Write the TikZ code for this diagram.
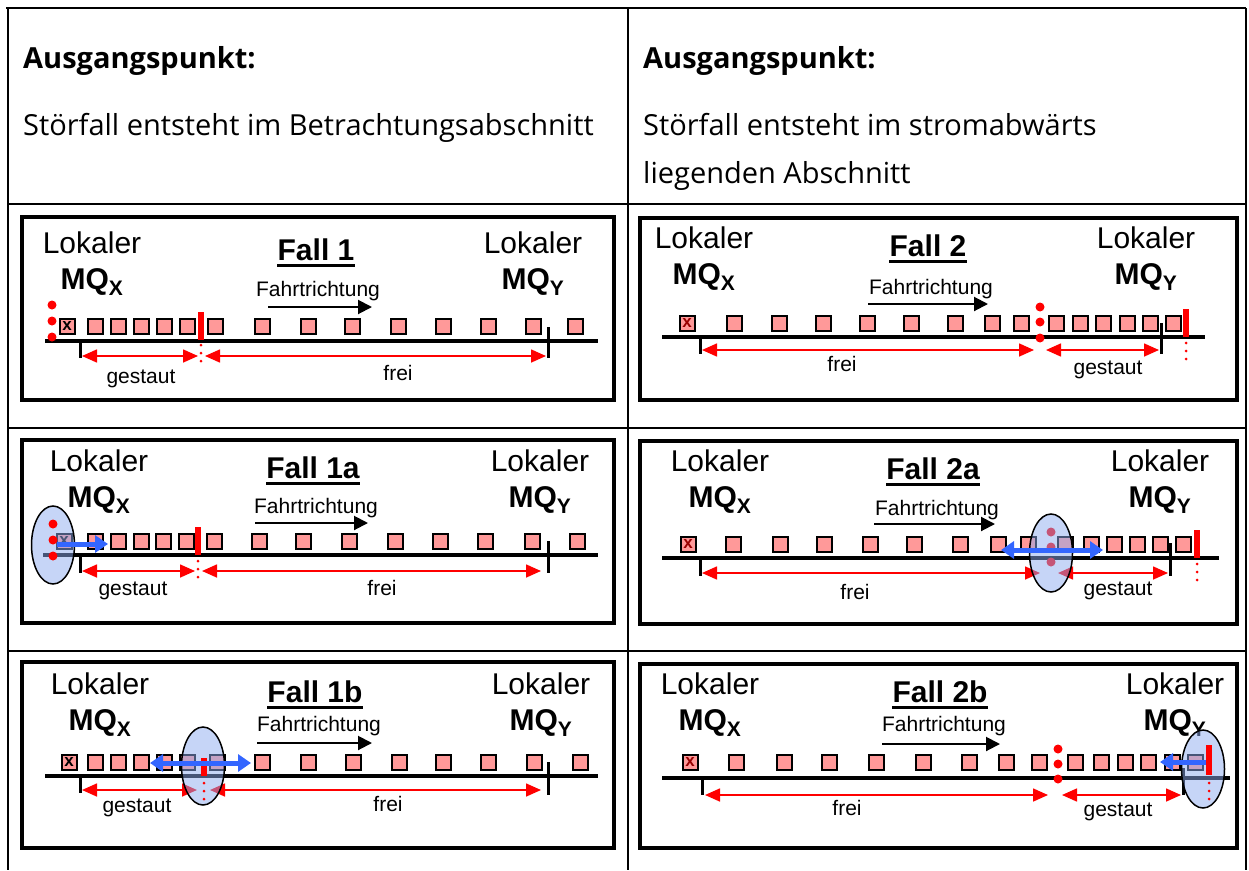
\documentclass[tikz,border=0pt]{standalone}
\usepackage{fontspec}
\setmainfont{Liberation Sans}
\newfontfamily\kopffont{Open Sans}
\usetikzlibrary{arrows.meta, shapes.geometric, positioning}

\definecolor{autorot}{RGB}{255,153,153}
\definecolor{pfeilblau}{RGB}{51,102,255}
\definecolor{zonenblau}{RGB}{141,171,239}

\tikzset{
    car/.style={draw, line width=2pt, fill=autorot, minimum size=15pt, inner sep=0pt,
        font=\bfseries\fontsize{17}{17}\selectfont},
    strasse/.style={line width=4pt},
    marke/.style={line width=3pt},
    rahmen/.style={line width=4pt},
    tabelle/.style={line width=2pt},
    stau/.style={red, line width=1.6pt,
        {Triangle[length=15pt,width=13pt]}-{Triangle[length=15pt,width=13pt]}},
    richtung/.style={line width=2pt, -{Triangle[length=14pt,width=14pt]}},
    stoer/.style={red, line width=6pt},
    stoerspur/.style={red, line width=3pt, line cap=round, dash pattern=on 0pt off 8pt},
    punkt/.style={circle, fill=red, inner sep=0pt, minimum size=9pt},
    blaupfeil/.style={pfeilblau, line width=5pt, -{Triangle[length=13pt,width=17pt]}},
    zone/.style={ellipse, draw, line width=1.5pt, fill=zonenblau, fill opacity=0.5,
        draw opacity=1, minimum width=43pt, minimum height=78pt, inner sep=0pt},
    lokal/.style={font=\fontsize{30}{36}\selectfont, align=center, inner sep=0pt},
    titel/.style={font=\fontsize{30}{36}\selectfont\bfseries, inner sep=0pt},
    fahrt/.style={font=\fontsize{21}{24}\selectfont, inner sep=0pt},
    klein/.style={font=\fontsize{21}{24}\selectfont, inner sep=0pt},
    kopf/.style={font=\kopffont\fontsize{29}{34}\selectfont, anchor=base west, inner sep=0pt},
}

\begin{document}
\begin{tikzpicture}[x=1pt, y=-1pt]
    \useasboundingbox (0,0) rectangle (1249,870);

    % Tabelle
    \draw[line width=2.5pt] (6,8) -- (1246,8);
    \draw[line width=2.5pt] (7,204) -- (1246,204);
    \draw[tabelle] (7,428) -- (1246,428);
    \draw[tabelle] (7,651) -- (1246,651);
    \foreach \x in {8,628,1246} {
        \draw[tabelle] (\x,8) -- (\x,870);
    }

    % Kopfzeile
    \node[kopf, font=\kopffont\fontsize{29}{34}\selectfont\bfseries] (ak1) at (23,68) {Ausgangspunkt:};
    \node[kopf] (st1) at (23,135) {Störfall entsteht im Betrachtungsabschnitt};
    \node[kopf, font=\kopffont\fontsize{29}{34}\selectfont\bfseries] (ak2) at (643,68) {Ausgangspunkt:};
    \node[kopf] (st2) at (643,135) {Störfall entsteht im stromabwärts};
    \node[kopf] (st3) at (643,183) {liegenden Abschnitt};

    % ---------------- Fall 1 ----------------
    \draw[rahmen] (22,217) rectangle (614,400);
    \node[lokal] (lx1) at (92,264) {Lokaler\\\textbf{MQ\textsubscript{X}}};
    \node[lokal] (ly1) at (533,264) {Lokaler\\\textbf{MQ\textsubscript{Y}}};
    \node[titel] (t1) at (316,250) {Fall 1};
    \draw[line width=3pt] ([yshift=-5pt]t1.base west) -- ([yshift=-5pt]t1.base east);
    \node[fahrt] (r1) at (318,291) {Fahrtrichtung};
    \coordinate (r1a) at (268,307);
    \coordinate (r1b) at (372,307);
    \draw[richtung] (r1a) -- (r1b);
    \draw[strasse] (45,341) -- (598,341);
    \node[car] (c1x) at (67,326) {x};
    \foreach \x in {95,118,141,164,187,215,262,308,352,398,443,488,533,575} {
        \node[car] (c1-\x) at (\x,326) {};
    }
    \draw[marke] (80,341) -- (80,358);
    \draw[marke] (548,327) -- (548,358);
    \coordinate (g1a) at (82,356);
    \coordinate (g1b) at (198,356);
    \coordinate (e1a) at (205,356);
    \coordinate (e1b) at (546,356);
    \draw[stau] (g1a) -- (g1b);
    \draw[stau] (e1a) -- (e1b);
    \node[klein] (gl1) at (141,379) {gestaut};
    \node[klein] (fl1) at (398,373) {frei};
    \draw[stoer] (201,312) -- (201,340);
    \draw[stoerspur] (201,345) -- (201,362);
    \foreach \y in {305,321,337} {
        \node[punkt] (p1-\y) at (52,\y) {};
    }

    % ---------------- Fall 2 ----------------
    \draw[rahmen] (640,218) rectangle (1237,400);
    \node[lokal] (lx2) at (704,259) {Lokaler\\\textbf{MQ\textsubscript{X}}};
    \node[lokal] (ly2) at (1146,259) {Lokaler\\\textbf{MQ\textsubscript{Y}}};
    \node[titel] (t2) at (928,246) {Fall 2};
    \draw[line width=3pt] ([yshift=-5pt]t2.base west) -- ([yshift=-5pt]t2.base east);
    \node[fahrt] (r2) at (931,289) {Fahrtrichtung};
    \coordinate (r2a) at (868,304);
    \coordinate (r2b) at (988,304);
    \draw[richtung] (r2a) -- (r2b);
    \draw[strasse] (662,337) -- (1205,337);
    \node[car, text=red!60!black] (c2x) at (687,323) {x};
    \foreach \x in {734,779,823,867,911,955,992,1021,1056,1080,1103,1127,1150,1173} {
        \node[car] (c2-\x) at (\x,323) {};
    }
    \draw[marke] (700,337) -- (700,354);
    \draw[marke] (1161,323) -- (1161,354);
    \coordinate (e2a) at (702,350);
    \coordinate (e2b) at (1034,350);
    \coordinate (g2a) at (1046,350);
    \coordinate (g2b) at (1159,350);
    \draw[stau] (e2a) -- (e2b);
    \draw[stau] (g2a) -- (g2b);
    \node[klein] (fl2) at (842,364) {frei};
    \node[klein] (gl2) at (1108,370) {gestaut};
    \draw[stoer] (1186,309) -- (1186,337);
    \draw[stoerspur] (1186,343) -- (1186,362);
    \foreach \y in {307,322,338} {
        \node[punkt] (p2-\y) at (1040,\y) {};
    }

    % ---------------- Fall 1a ----------------
    \draw[rahmen] (22,440) rectangle (614,623);
    \node[lokal] (lx3) at (99,482) {Lokaler\\\textbf{MQ\textsubscript{X}}};
    \node[lokal] (ly3) at (540,482) {Lokaler\\\textbf{MQ\textsubscript{Y}}};
    \node[titel] (t3) at (313,468) {Fall 1a};
    \draw[line width=3pt] ([yshift=-5pt]t3.base west) -- ([yshift=-5pt]t3.base east);
    \node[fahrt] (r3) at (316,508) {Fahrtrichtung};
    \coordinate (r3a) at (255,523);
    \coordinate (r3b) at (368,523);
    \draw[richtung] (r3a) -- (r3b);
    \draw[strasse] (43,555) -- (598,555);
    \node[car] (c3x) at (64,541) {x};
    \foreach \x in {95,118,141,163,186,214,259,303,349,395,440,485,532,577} {
        \node[car] (c3-\x) at (\x,541) {};
    }
    \draw[marke] (80,555) -- (80,573);
    \draw[marke] (548,541) -- (548,573);
    \coordinate (g3a) at (82,571);
    \coordinate (g3b) at (195,571);
    \coordinate (e3a) at (202,571);
    \coordinate (e3b) at (541,571);
    \draw[stau] (g3a) -- (g3b);
    \draw[stau] (e3a) -- (e3b);
    \node[klein] (gl3) at (133,591) {gestaut};
    \node[klein] (fl3) at (382,588) {frei};
    \node[zone] (z3) at (53,545) {};
    \draw[stoer] (198,527) -- (198,555);
    \draw[stoerspur] (198,561) -- (198,578);
    \foreach \y in {524,540,556} {
        \node[punkt] (p3-\y) at (53,\y) {};
    }
    \coordinate (b3a) at (57,544);
    \coordinate (b3b) at (108,544);
    \draw[blaupfeil] (b3a) -- (b3b);

    % ---------------- Fall 2a ----------------
    \draw[rahmen] (640,441) rectangle (1237,624);
    \node[lokal] (lx4) at (720,482) {Lokaler\\\textbf{MQ\textsubscript{X}}};
    \node[lokal] (ly4) at (1160,482) {Lokaler\\\textbf{MQ\textsubscript{Y}}};
    \node[titel] (t4) at (933,469) {Fall 2a};
    \draw[line width=3pt] ([yshift=-5pt]t4.base west) -- ([yshift=-5pt]t4.base east);
    \node[fahrt] (r4) at (937,510) {Fahrtrichtung};
    \coordinate (r4a) at (874,524);
    \coordinate (r4b) at (995,524);
    \draw[richtung] (r4a) -- (r4b);
    \draw[strasse] (662,558) -- (1219,558);
    \node[car, text=red!60!black] (c4x) at (688,544) {x};
    \foreach \x in {733,780,824,870,914,960,998,1028,1065,1091,1114,1137,1160,1183} {
        \node[car] (c4-\x) at (\x,544) {};
    }
    \draw[marke] (700,558) -- (700,576);
    \draw[marke] (1170,543) -- (1170,576);
    \coordinate (e4a) at (702,573);
    \coordinate (e4b) at (1040,573);
    \coordinate (g4a) at (1058,573);
    \coordinate (g4b) at (1168,573);
    \draw[stau] (e4a) -- (e4b);
    \draw[stau] (g4a) -- (g4b);
    \node[klein] (fl4) at (855,592) {frei};
    \node[klein] (gl4) at (1118,591) {gestaut};
    \foreach \y in {532,547,562} {
        \node[punkt] (p4-\y) at (1051,\y) {};
    }
    \node[zone] (z4) at (1051,553) {};
    \draw[stoer] (1197,530) -- (1197,558);
    \draw[stoerspur] (1197,564) -- (1197,582);
    \coordinate (b4a) at (1001,550);
    \coordinate (b4b) at (1103,550);
    \draw[blaupfeil, {Triangle[length=13pt,width=17pt]}-{Triangle[length=13pt,width=17pt]}] (b4a) -- (b4b);

    % ---------------- Fall 1b ----------------
    \draw[rahmen] (22,662) rectangle (614,848);
    \node[lokal] (lx5) at (100,705) {Lokaler\\\textbf{MQ\textsubscript{X}}};
    \node[lokal] (ly5) at (541,705) {Lokaler\\\textbf{MQ\textsubscript{Y}}};
    \node[titel] (t5) at (315,692) {Fall 1b};
    \draw[line width=3pt] ([yshift=-5pt]t5.base west) -- ([yshift=-5pt]t5.base east);
    \node[fahrt] (r5) at (319,726) {Fahrtrichtung};
    \coordinate (r5a) at (257,743);
    \coordinate (r5b) at (372,743);
    \draw[richtung] (r5a) -- (r5b);
    \draw[strasse] (45,776) -- (598,776);
    \node[car] (c5x) at (69,762) {x};
    \foreach \x in {95,118,141,164,187,217,262,308,353,399,443,488,534,580} {
        \node[car] (c5-\x) at (\x,762) {};
    }
    \draw[marke] (80,776) -- (80,793);
    \draw[marke] (548,762) -- (548,795);
    \coordinate (g5a) at (82,790);
    \coordinate (g5b) at (197,790);
    \coordinate (e5a) at (210,790);
    \coordinate (e5b) at (541,790);
    \draw[stau] (g5a) -- (g5b);
    \draw[stau] (e5a) -- (e5b);
    \node[klein] (gl5) at (137,808) {gestaut};
    \node[klein] (fl5) at (388,804) {frei};
    \node[zone] (z5) at (203,766) {};
    \draw[stoer] (204,758) -- (204,776);
    \draw[stoerspur] (204,783) -- (204,800);
    \coordinate (b5a) at (150,763);
    \coordinate (b5b) at (251,763);
    \draw[blaupfeil, {Triangle[length=13pt,width=17pt]}-{Triangle[length=13pt,width=17pt]}] (b5a) -- (b5b);

    % ---------------- Fall 2b ----------------
    \draw[rahmen] (640,664) rectangle (1237,848);
    \node[lokal] (lx6) at (710,705) {Lokaler\\\textbf{MQ\textsubscript{X}}};
    \node[lokal] (ly6) at (1175,705) {Lokaler\\\textbf{MQ\textsubscript{Y}}};
    \node[titel] (t6) at (940,692) {Fall 2b};
    \draw[line width=3pt] ([yshift=-5pt]t6.base west) -- ([yshift=-5pt]t6.base east);
    \node[fahrt] (r6) at (944,726) {Fahrtrichtung};
    \coordinate (r6a) at (882,744);
    \coordinate (r6b) at (1000,744);
    \draw[richtung] (r6a) -- (r6b);
    \draw[strasse] (662,778) -- (1230,778);
    \node[car, text=red!60!black] (c6x) at (690,762) {x};
    \foreach \x in {736,784,829,876,923,969,1006,1039,1075,1101,1125,1148,1172,1195} {
        \node[car] (c6-\x) at (\x,762) {};
    }
    \draw[marke] (702,778) -- (702,795);
    \draw[marke] (1183,768) -- (1183,795);
    \coordinate (e6a) at (705,795);
    \coordinate (e6b) at (1048,795);
    \coordinate (g6a) at (1062,795);
    \coordinate (g6b) at (1181,795);
    \draw[stau] (e6a) -- (e6b);
    \draw[stau] (g6a) -- (g6b);
    \node[klein] (fl6) at (847,808) {frei};
    \node[klein] (gl6) at (1118,812) {gestaut};
    \foreach \y in {749,764,779} {
        \node[punkt] (p6-\y) at (1058,\y) {};
    }
    \node[zone] (z6) at (1203,769) {};
    \draw[stoer] (1209,745) -- (1209,775);
    \draw[stoerspur] (1209,783) -- (1209,800);
    \coordinate (b6a) at (1206,762);
    \coordinate (b6b) at (1160,762);
    \draw[blaupfeil] (b6a) -- (b6b);

\end{tikzpicture}
\end{document}
